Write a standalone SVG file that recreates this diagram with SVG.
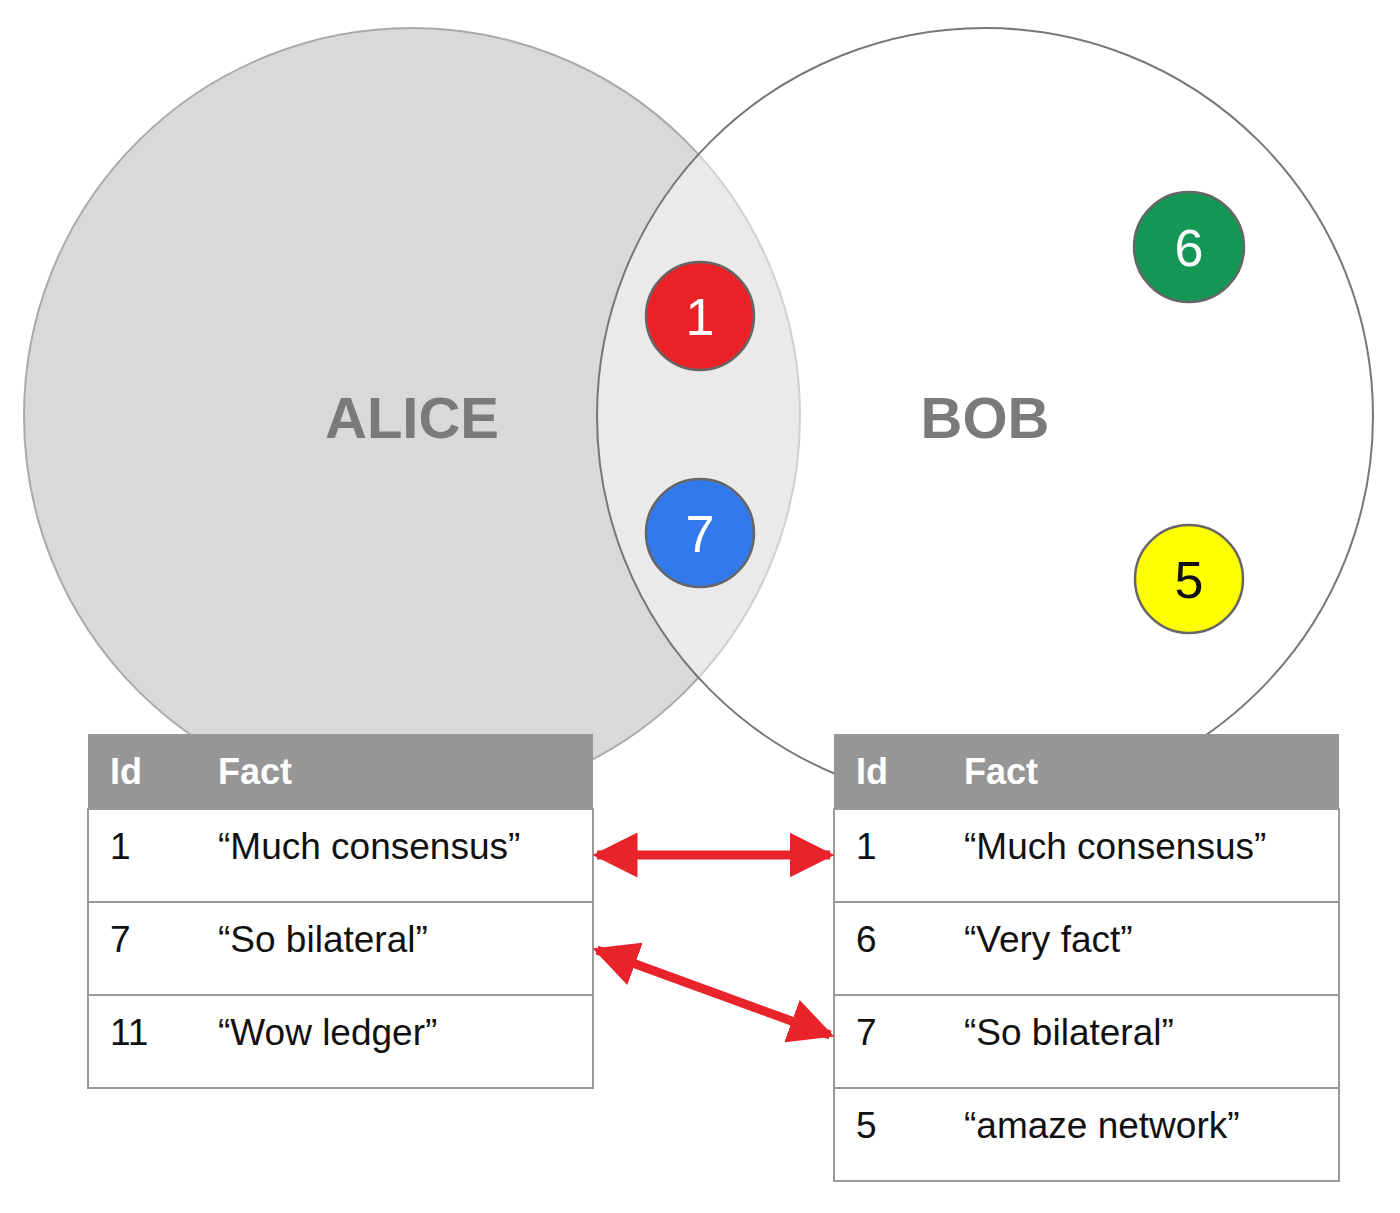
<svg xmlns="http://www.w3.org/2000/svg" width="1400" height="1213" viewBox="0 0 1400 1213">
<style>
.lbl{font-family:"Liberation Sans",Arial,sans-serif;font-weight:bold;font-size:58px;fill:#7a7a7a}
.num{font-family:"Liberation Sans",Arial,sans-serif;font-size:52px;text-anchor:middle}
.dot{stroke:#666;stroke-width:2.5}
.hd{fill:#969696}
.row{fill:#fff;stroke:#999;stroke-width:2}
.ht{font-family:"Liberation Sans",Arial,sans-serif;font-weight:bold;font-size:36px;fill:#fff}
.t{font-family:"Liberation Sans",Arial,sans-serif;font-size:37px;fill:#111}
.arr{stroke:#e8232a;stroke-width:9;fill:none}
</style>
<defs>
<marker id="ah" viewBox="0 0 10 10" refX="9" refY="5" markerWidth="5" markerHeight="5" orient="auto-start-reverse" markerUnits="strokeWidth">
<path d="M0,0 L10,5 L0,10 z" fill="#e8232a"/>
</marker>
</defs>
<g id="alice"><circle cx="412" cy="416" r="388" fill="#d9d9d9" stroke="#aaa" stroke-width="2"/><text class="lbl" x="412" y="438" text-anchor="middle">ALICE</text></g>
<g id="bob"><circle cx="985" cy="416" r="388" fill="#fff" fill-opacity="0.45" stroke="#777" stroke-width="2"/><text class="lbl" x="985" y="438" text-anchor="middle">BOB</text></g>
<g id="f1"><circle class="dot" cx="700" cy="316" r="54" fill="#ec2127"/><text class="num" x="700" y="335" fill="#fff">1</text></g>
<g id="f7"><circle class="dot" cx="700" cy="533" r="54" fill="#3279ec"/><text class="num" x="700" y="552" fill="#fff">7</text></g>
<g id="f6"><circle class="dot" cx="1189" cy="247" r="55" fill="#149655"/><text class="num" x="1189" y="266" fill="#fff">6</text></g>
<g id="f5"><circle class="dot" cx="1189" cy="579" r="54" fill="#ffff00"/><text class="num" x="1189" y="598" fill="#111">5</text></g>
<g id="tableA">
<rect class="hd" x="88" y="734" width="505" height="75"/>
<text class="ht" x="110" y="784">Id</text><text class="ht" x="218" y="784">Fact</text>
<rect class="row" x="88" y="809" width="505" height="93"/>
<rect class="row" x="88" y="902" width="505" height="93"/>
<rect class="row" x="88" y="995" width="505" height="93"/>
<text class="t" x="110" y="859">1</text><text class="t" x="218" y="859">“Much consensus”</text>
<text class="t" x="110" y="952">7</text><text class="t" x="218" y="952">“So bilateral”</text>
<text class="t" x="110" y="1045">11</text><text class="t" x="218" y="1045">“Wow ledger”</text>
</g>
<g id="tableB">
<rect class="hd" x="834" y="734" width="505" height="75"/>
<text class="ht" x="856" y="784">Id</text><text class="ht" x="964" y="784">Fact</text>
<rect class="row" x="834" y="809" width="505" height="93"/>
<rect class="row" x="834" y="902" width="505" height="93"/>
<rect class="row" x="834" y="995" width="505" height="93"/>
<rect class="row" x="834" y="1088" width="505" height="93"/>
<text class="t" x="856" y="859">1</text><text class="t" x="964" y="859">“Much consensus”</text>
<text class="t" x="856" y="952">6</text><text class="t" x="964" y="952">“Very fact”</text>
<text class="t" x="856" y="1045">7</text><text class="t" x="964" y="1045">“So bilateral”</text>
<text class="t" x="856" y="1138">5</text><text class="t" x="964" y="1138">“amaze network”</text>
</g>
<g id="connectors">
<line class="arr" x1="597" y1="855" x2="830" y2="855" marker-start="url(#ah)" marker-end="url(#ah)"/>
<line class="arr" x1="597" y1="950" x2="830" y2="1035" marker-start="url(#ah)" marker-end="url(#ah)"/>
</g>
</svg>
